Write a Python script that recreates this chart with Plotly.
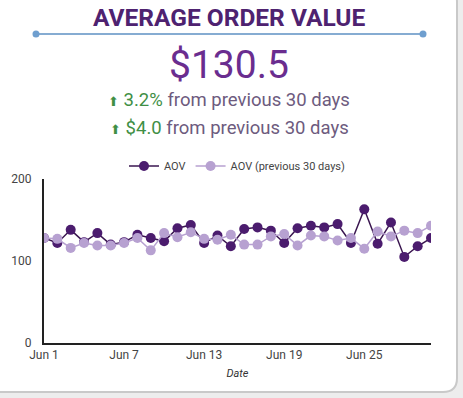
import plotly.graph_objects as go

# ---- data ----
DATES = [f"Jun {d}" for d in range(1, 31)]
AOV = [128, 122, 138, 123, 134, 120, 123, 132, 128, 124,
       140, 144, 122, 131, 118, 139, 141, 137, 122, 140,
       143, 141, 145, 122, 163, 121, 147, 105, 118, 128]
AOV_PREV = [128, 127, 116, 122, 119, 119, 122, 128, 113, 134,
            129, 135, 127, 126, 132, 120, 120, 130, 133, 119,
            131, 130, 125, 128, 115, 136, 130, 137, 134, 143]
TICK_VALS = ["Jun 1", "Jun 7", "Jun 13", "Jun 19", "Jun 25"]
Y_TICKS = [0, 100, 200]
AOV_TOTAL = 130.5
PCT_CHANGE = 3.2
ABS_CHANGE = 4.0
PERIOD_LABEL = "from previous 30 days"

W, H = 463, 398
L, R, T, B = 44, 431, 179, 343  # plot area in pixels


def px(x):
    return (x - L) / (R - L)


def py(y):
    return (B - y) / (B - T)


DARK = "#4b1c6e"
LIGHT = "#b7a1d1"
GREEN = "#3f8f45"
GREYPURPLE = "#6d5b7e"

fig = go.Figure()
fig.add_trace(go.Scatter(
    x=DATES, y=AOV, name="AOV", mode="lines+markers",
    line=dict(color="#3a1650", width=1.5),
    marker=dict(color=DARK, size=10),
))
fig.add_trace(go.Scatter(
    x=DATES, y=AOV_PREV, name="AOV (previous 30 days)", mode="lines+markers",
    line=dict(color=LIGHT, width=1.5),
    marker=dict(color=LIGHT, size=10),
))

# card background with rounded corners
x0, x1, y0, y1, r = -12, 457, -12, 392, 14
card = (f"M {px(x0)},{py(y0)} L {px(x1 - r)},{py(y0)} "
        f"Q {px(x1)},{py(y0)} {px(x1)},{py(y0 + r)} "
        f"L {px(x1)},{py(y1 - r)} Q {px(x1)},{py(y1)} {px(x1 - r)},{py(y1)} "
        f"L {px(x0 + r)},{py(y1)} Q {px(x0)},{py(y1)} {px(x0)},{py(y1 - r)} Z")
shapes = [
    dict(type="path", path=card, xref="paper", yref="paper",
         fillcolor="white", line=dict(color="#c9c9c9", width=2), layer="below"),
    dict(type="line", xref="paper", yref="paper", x0=px(36), x1=px(423),
         y0=py(34), y1=py(34), line=dict(color="#86acd2", width=2)),
]
for cx in (36, 423):
    rr = 3.5
    shapes.append(dict(type="circle", xref="paper", yref="paper",
                       x0=px(cx - rr), x1=px(cx + rr), y0=py(34 + rr), y1=py(34 - rr),
                       fillcolor="#6f9fcf", line=dict(width=0)))

arrow = f'<span style="font-size:13px;color:{GREEN}">⬆</span>'
annotations = [
    dict(text="<b>AVERAGE ORDER VALUE</b>", x=px(229), y=py(17), xref="paper", yref="paper",
         showarrow=False, font=dict(family="Roboto", size=24.5, color="#4e2270"),
         xanchor="center", yanchor="middle"),
    dict(text=f"${AOV_TOTAL:.1f}", x=px(229), y=py(65), xref="paper", yref="paper",
         showarrow=False, font=dict(family="Roboto", size=39, color="#6a2d8f"),
         xanchor="center", yanchor="middle"),
    dict(text=f'{arrow} <span style="color:{GREEN}">{PCT_CHANGE:.1f}%</span> {PERIOD_LABEL}',
         x=px(229), y=py(100), xref="paper", yref="paper", showarrow=False,
         font=dict(family="Roboto", size=18.5, color=GREYPURPLE),
         xanchor="center", yanchor="middle"),
    dict(text=f'{arrow} <span style="color:{GREEN}">${ABS_CHANGE:.1f}</span> {PERIOD_LABEL}',
         x=px(229), y=py(128), xref="paper", yref="paper", showarrow=False,
         font=dict(family="Roboto", size=18.5, color=GREYPURPLE),
         xanchor="center", yanchor="middle"),
]

fig.update_layout(
    width=W, height=H,
    margin=dict(l=L, r=W - R, t=T, b=H - B, pad=0),
    paper_bgcolor="#ededed", plot_bgcolor="rgba(0,0,0,0)",
    font=dict(family="Roboto", size=12, color="#333333"),
    showlegend=True,
    legend=dict(orientation="h", x=0.5, xanchor="center", y=py(166), yanchor="middle",
                font=dict(size=11, color="#444444"), bgcolor="rgba(0,0,0,0)",
                itemwidth=30),
    shapes=shapes,
    annotations=annotations,
    xaxis=dict(type="category", range=[0, len(DATES) - 1], tickmode="array",
               tickvals=TICK_VALS, ticktext=TICK_VALS, showgrid=False,
               showline=True, linecolor="#222222", linewidth=2, zeroline=False,
               ticks="", tickfont=dict(size=12, color="#444444"),
               title=dict(text="<i>Date</i>", font=dict(size=11, color="#333333"), standoff=8)),
    yaxis=dict(range=[0, 200], tickvals=Y_TICKS, showgrid=False, zeroline=False,
               showline=True, linecolor="#222222", linewidth=2, ticks="",
               tickfont=dict(size=12, color="#444444"), ticklabelstandoff=8),
)

fig.write_html("out.html", config={"displayModeBar": False},
               post_script="document.body.style.margin='0';")
